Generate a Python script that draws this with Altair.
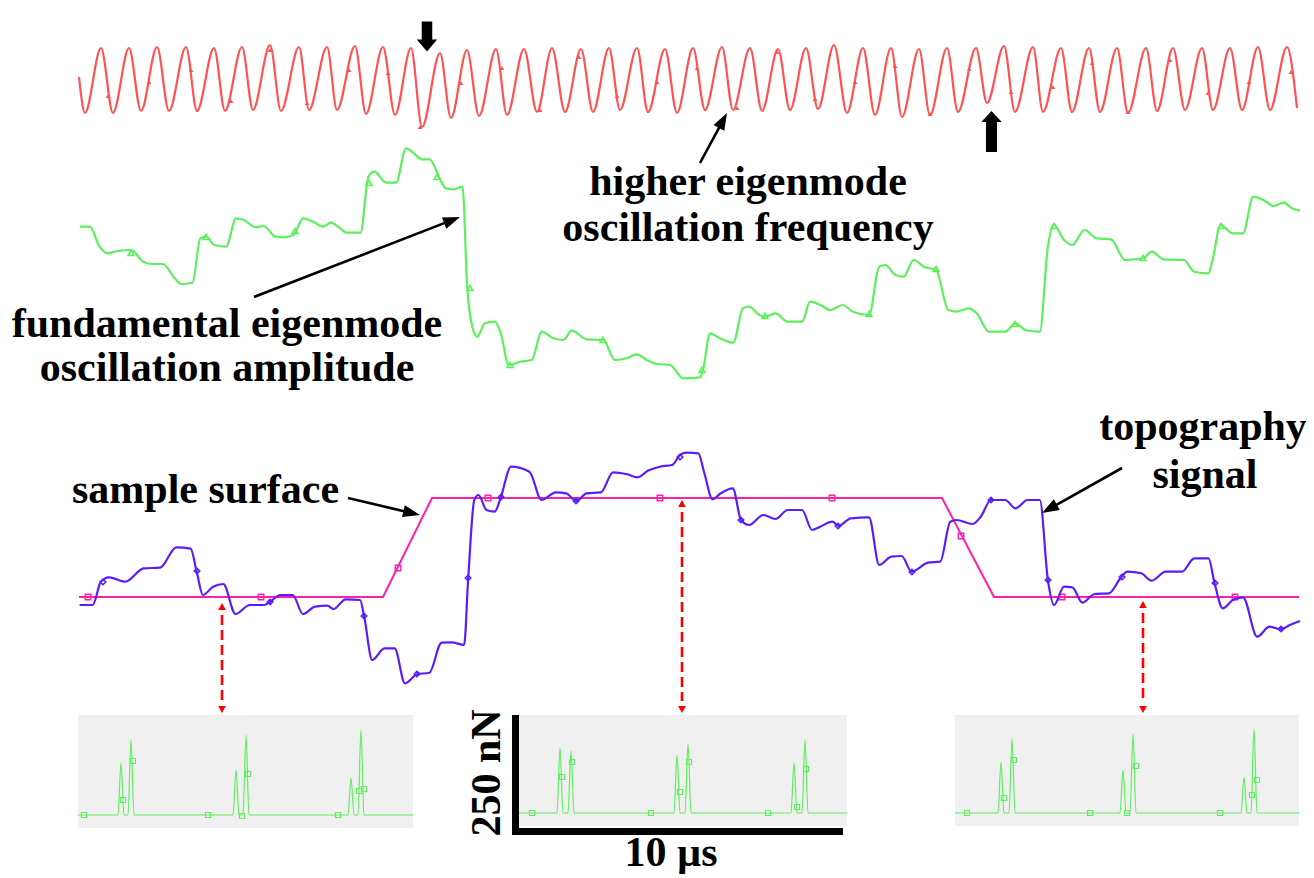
import math
import altair as alt
import pandas as pd

# ---------------- data (page pixel units) ----------------
# higher eigenmode (red) : extrema of the oscillation
red_peak_x = [101, 129, 157, 186, 214, 242, 270, 299, 327, 355, 383, 411, 440, 467, 496,
              524, 552, 581, 609, 637, 665, 693, 722, 750, 778, 806, 834, 863, 891, 919,
              947, 976, 1004, 1033, 1061, 1089, 1117, 1146, 1173, 1202, 1230, 1258, 1287]
red_peak_y = [48, 48, 47, 47, 48, 47, 45, 47, 47, 46, 47, 48, 53, 50, 49,
              49, 48, 49, 48, 48, 49, 48, 47, 48, 49, 48, 45, 48, 48, 49,
              48, 48, 46, 47, 48, 48, 48, 48, 48, 48, 48, 47, 47]
red_trough_x = [85, 113, 141, 169, 197, 225, 253, 281, 309, 337, 366, 395, 422, 451, 479, 507,
                537, 565, 593, 620, 648, 677, 705, 733, 762, 790, 818, 847, 875, 902,
                930, 958, 987, 1015, 1043, 1072, 1100, 1128, 1157, 1185, 1213, 1242, 1270]
red_trough_y = [113, 113, 111, 111, 111, 111, 110, 111, 110, 110, 114, 115, 127, 118, 116, 115,
                112, 112, 112, 110, 112, 113, 110, 110, 111, 110, 109, 113, 115, 117,
                115, 112, 103, 112, 112, 112, 112, 113, 111, 110, 110, 110, 110]
red_end_x = [79, 1297]
red_end_y = [77, 108]
red_mark_x = [108, 149, 191, 231, 270, 307, 349, 388, 420, 461, 502, 540, 579, 617, 657, 697,
              737, 777, 815, 855, 895, 930, 969, 1011, 1053, 1092, 1128, 1170, 1208, 1249, 1291]
red_mark_y = [96, 82, 70, 101, 50, 103, 70, 73, 127, 83, 68, 110, 57, 96, 82, 68,
              108, 52, 99, 82, 66, 114, 69, 92, 87, 63, 112, 60, 93, 82, 72]

# fundamental eigenmode amplitude (green)
green_x = [79.9, 89.8, 99.6, 107.5, 117.4, 131.3, 143.1, 153, 162.9, 174.7, 180.7, 192.5, 200.4,
           206.4, 214.3, 226.1, 236, 243.9, 255.8, 263.7, 275.5, 283.4, 293.3, 303.2, 313.1, 323,
           330.9, 338.8, 346.7, 360.5, 368.4, 374.3, 386.2, 396.1, 406, 413.9, 421.8, 429.7, 439.6,
           445.5, 453.4, 462.5, 467.2, 473.2, 477.1, 485, 494.9, 500.8, 508.7, 520.6, 531.7, 541.7,
           553.3, 563.3, 571.7, 586.7, 603.3, 615, 626.7, 636.7, 646.7, 656.7, 670, 683.3, 700,
           703, 710, 720, 733.3, 743, 749.1, 759.3, 765.4, 775.5, 787.7, 802, 810.1, 820.2, 830.4,
           842.6, 852.8, 869, 879.2, 885.3, 895.4, 903.6, 913.7, 923.9, 936.1, 948.3, 956.4, 968.6,
           976.7, 989, 1005.2, 1015.4, 1025.5, 1039.8, 1047.9, 1054, 1064.1, 1072.3, 1084.5, 1096.7,
           1110.9, 1125.1, 1135.3, 1143.4, 1151.5, 1163.7, 1184, 1194.2, 1208.5, 1212.5, 1220.7,
           1232.8, 1243, 1253.2, 1263.3, 1273.6, 1283.7, 1291.8, 1299.9]
green_y = [226.7, 226.7, 246.7, 253.3, 251, 250, 261.7, 264, 264, 278.3, 284, 282.7, 238.3,
           236.7, 245, 246.7, 218.3, 220, 227.3, 226, 236.7, 237.3, 235, 218.3, 221.7, 226.7,
           222.7, 227.3, 232.7, 232.7, 176.7, 171.7, 182.7, 182.7, 148.3, 153.3, 159.3, 159.3, 178.3,
           188.3, 189.3, 186.7, 286.7, 330, 336.7, 323.3, 321.7, 333.3, 365, 361.7, 360, 331.7,
           338.3, 340, 330.7, 339.3, 340, 360, 358.3, 354.3, 360, 364, 365, 378.3, 377.3,
           370, 333.3, 338.3, 342.7, 308.3, 306.7, 315, 316.7, 313.3, 321.7, 321.7, 301.7, 305, 310,
           305, 311.7, 315, 266.7, 265, 275, 276.7, 260, 266.7, 270, 310, 311.7, 308.3,
           313.3, 331.7, 331.7, 323.3, 330, 331.7, 246.7, 225, 240, 245, 230, 238.3,
           239.3, 260, 259.3, 258.3, 251.7, 259.3, 260, 271.7, 273.3, 260, 225,
           233.3, 233.3, 196.7, 200, 206, 202.7, 208.3, 210.7]
green_mark_x = [131, 206, 295, 369, 437, 470, 510, 603, 702, 765, 869, 936, 1015, 1054, 1143, 1221]
green_mark_y = [253, 237, 231, 183, 177, 288, 365, 340, 370, 316, 314, 269, 324, 226, 258, 226]

# topography signal (blue)
blue_x = [79.6, 92.7, 100.8, 109, 125.3, 143.7, 160, 176.3, 190.6, 196.7, 202.9, 213.1, 223.3,
          235.5, 249.8, 264.1, 270.2, 280.4, 292.7, 302.9, 315.1, 327.3, 333.5, 345.7, 360, 364.1,
          372.2, 384.5, 394.7, 404.9, 417.1, 429.4, 441.6, 451.8, 464.1, 468.2, 474.3, 478.4, 486.5,
          494.7, 500.8, 511, 529.4, 541.6, 555.9, 566.1, 576.3, 586.5, 600.8, 613.1, 627.3, 637.6,
          647.8, 660, 672.2, 680, 686.1, 698.3, 704.4, 712.5, 720.7, 732.8, 741, 749.1, 763.3,
          775.5, 787.7, 802, 812.1, 820.2, 832.4, 838.5, 850.7, 869, 879.2, 891.4, 901.6, 911.7,
          928, 940.2, 950.3, 956.4, 972.7, 980.8, 991, 1005.2, 1015.4, 1027.6, 1039.8, 1047.9, 1054,
          1064.1, 1072.3, 1082.4, 1094.6, 1108.9, 1121.5, 1127.2, 1141.3, 1151.5, 1165.8, 1182,
          1194.2, 1208.5, 1214.6, 1222.7, 1232.8, 1243, 1257.2, 1269.5, 1280.8, 1289.8, 1299.9]
blue_y = [605, 605, 581.7, 577.3, 581.7, 568.3, 567.7, 547.3, 548.7, 571.7, 595, 586.7, 584,
          614, 605, 605, 601.7, 595, 595, 614, 606.7, 605.7, 609, 599.3, 600, 616,
          660, 648.3, 648.3, 683.3, 674.3, 672.7, 642.7, 642.3, 645, 578.3, 500, 495, 510,
          511.7, 497.3, 466.7, 471.7, 500, 492.3, 493.3, 501, 493.3, 492.3, 472.3, 474.3, 477.3,
          470.7, 466.7, 465, 455, 452.7, 453.3, 473.3, 499.3, 493.3, 488.3, 520, 525, 515,
          519, 510, 510, 530, 526.7, 521.7, 526, 518.3, 517.3, 565, 556.7, 556, 571.7,
          562.7, 561.7, 521.7, 520, 524, 516.7, 500, 500, 508.3, 500, 500, 580, 605,
          586.7, 587.3, 602.7, 594, 593.3, 576.7, 571.7, 573.3, 580.7, 571.7, 571.7,
          558.3, 558.3, 583.3, 608.3, 600, 597.3, 636.7, 626.7, 629.3, 625, 621]
blue_mark_x = [103, 197, 270, 364, 417, 468, 501, 576, 680, 741, 838, 912, 991, 1048, 1122, 1215, 1281]
blue_mark_y = [582, 571, 602, 616, 674, 578, 497, 501, 457, 520, 526, 572, 500, 580, 577, 583, 629]

# sample surface (pink)
pink_x = [79, 383, 432, 942, 994, 1299]
pink_y = [597, 597, 498, 498, 597, 597]
pink_mark_x = [88, 261, 398, 488, 660, 832, 961, 1062, 1235]
pink_mark_y = [597, 597, 568, 498, 498, 498, 536, 597, 597]

# force-curve insets (three panels)
panel_x0 = [78, 519, 955]
panel_x1 = [413, 847, 1299]
panel_y0 = [715, 715, 715]
panel_y1 = [828, 826, 826]
panel_base = [815, 813, 813]
panel_peak_x = [[121, 131, 236, 246, 351, 361],
                [560, 571, 677, 688, 794, 805],
                [1001, 1012, 1123, 1133, 1244, 1254]]
panel_peak_top = [[763, 740, 770, 735, 778, 730],
                  [748, 751, 755, 744, 763, 740],
                  [762, 739, 770, 734, 777, 729]]
panel_sq_x = [[84, 123, 133, 208, 242, 248, 338, 359, 364],
              [532, 562, 572, 651, 680, 689, 768, 797, 806],
              [967, 1004, 1014, 1090, 1127, 1136, 1220, 1252, 1257]]
panel_sq_y = [[815, 800, 761, 815, 816, 774, 815, 791, 789],
              [813, 777, 762, 813, 792, 762, 813, 807, 769],
              [813, 798, 760, 813, 813, 766, 813, 795, 780]]

# red double arrows linking the topography to the insets
link_x = [222, 682, 1143]
link_top = [603, 500, 601]
link_bottom = [713, 713, 713]

# annotation arrows (start -> tip)
ann_x1 = [700, 254, 348, 1122]
ann_y1 = [163, 297, 498, 468]
ann_x2 = [727, 460, 420, 1042]
ann_y2 = [113, 217, 515, 513]

# texts
labels = ["higher eigenmode", "oscillation frequency", "fundamental eigenmode",
          "oscillation amplitude", "topography", "signal"]
label_x = [748, 748, 227, 227, 1203, 1205]
label_y = [195, 241, 337, 381, 440, 488]

# ---------------- chart ----------------
W, H, PB = 1298, 834, 32
XS = alt.Scale(domain=[8, 8 + W], nice=False, zero=False)
YS = alt.Scale(domain=[8, 8 + H], nice=False, zero=False, reverse=True)
FONT = "Liberation Serif"


def X(f="x"):
    return alt.X(f"{f}:Q", scale=XS, axis=None)


def Y(f="y"):
    return alt.Y(f"{f}:Q", scale=YS, axis=None)


RED, GREEN, BLUE, PINK = "#ff5252", "#5cf05c", "#5a1cff", "#ff1fac"

# red wave
red_pts = sorted(list(zip(red_peak_x, red_peak_y)) + list(zip(red_trough_x, red_trough_y))
                 + list(zip(red_end_x, red_end_y)))
red_df = pd.DataFrame(red_pts, columns=["x", "y"])
red_line = alt.Chart(red_df).mark_line(color=RED, strokeWidth=2.2, interpolate="monotone").encode(x=X(), y=Y())
red_marks = alt.Chart(pd.DataFrame({"x": red_mark_x, "y": red_mark_y})).mark_point(
    shape="triangle-up", filled=True, size=22, color=RED, opacity=1).encode(x=X(), y=Y())

green_line = alt.Chart(pd.DataFrame({"x": green_x, "y": green_y})).mark_line(
    color=GREEN, strokeWidth=2.2, interpolate="monotone").encode(x=X(), y=Y())
green_marks = alt.Chart(pd.DataFrame({"x": green_mark_x, "y": green_mark_y})).mark_point(
    shape="triangle-up", filled=False, size=34, strokeWidth=1.6, color=GREEN, opacity=1).encode(x=X(), y=Y())

pink_line = alt.Chart(pd.DataFrame({"x": pink_x, "y": pink_y})).mark_line(
    color=PINK, strokeWidth=2).encode(x=X(), y=Y())
pink_marks = alt.Chart(pd.DataFrame({"x": pink_mark_x, "y": pink_mark_y})).mark_point(
    shape="square", filled=False, size=30, strokeWidth=1.4, color=PINK, opacity=1).encode(x=X(), y=Y())

blue_line = alt.Chart(pd.DataFrame({"x": blue_x, "y": blue_y})).mark_line(
    color=BLUE, strokeWidth=2.2, interpolate="monotone").encode(x=X(), y=Y())
blue_marks = alt.Chart(pd.DataFrame({"x": blue_mark_x, "y": blue_mark_y})).mark_point(
    shape="diamond", filled=False, size=30, strokeWidth=1.6, color=BLUE, opacity=1).encode(x=X(), y=Y())

# panels
panel_df = pd.DataFrame({"x": panel_x0, "x2": panel_x1, "y": panel_y0, "y2": panel_y1})
panels = alt.Chart(panel_df).mark_rect(color="#f0f0f0").encode(x=X(), x2="x2:Q", y=Y(), y2="y2:Q")

rows = []
for p in range(3):
    b = panel_base[p]
    pts = [(panel_x0[p], b), (panel_x1[p], b)]
    for px, pt in zip(panel_peak_x[p], panel_peak_top[p]):
        pts += [(px - 3, b), (px, pt), (px + 3, b)]
    for x, y in sorted(pts):
        rows.append({"panel": p, "x": x, "y": y})
pline = alt.Chart(pd.DataFrame(rows)).mark_line(
    color=GREEN, strokeWidth=1.2, interpolate="monotone").encode(x=X(), y=Y(), detail="panel:N")
sq_rows = [{"x": x, "y": y} for p in range(3) for x, y in zip(panel_sq_x[p], panel_sq_y[p])]
psq = alt.Chart(pd.DataFrame(sq_rows)).mark_point(
    shape="square", filled=False, size=26, strokeWidth=1.1, color=GREEN, opacity=1).encode(x=X(), y=Y())

# scale bar
bar_df = pd.DataFrame({"x": [512, 512], "x2": [519, 843], "y": [715, 828], "y2": [829, 835]})
bars = alt.Chart(bar_df).mark_rect(color="black").encode(x=X(), x2="x2:Q", y=Y(), y2="y2:Q")

# red dashed link arrows
HEAD_R = "M0,0L0.55,1L-0.55,1Z"
link_df = pd.DataFrame({"x": link_x, "y": [t + 12 for t in link_top], "y2": [b - 12 for b in link_bottom]})
links = alt.Chart(link_df).mark_rule(color="#ff0000", strokeWidth=2.6, strokeDash=[10, 5]).encode(
    x=X(), y=Y(), y2="y2:Q")
lh_rows = [{"x": x, "y": t, "ang": 0} for x, t in zip(link_x, link_top)] + \
          [{"x": x, "y": b, "ang": 180} for x, b in zip(link_x, link_bottom)]
link_heads = alt.Chart(pd.DataFrame(lh_rows)).mark_point(
    shape=HEAD_R, filled=True, size=196, color="#ff0000", strokeWidth=0, opacity=1).encode(
    x=X(), y=Y(), angle=alt.Angle("ang:Q", scale=None))

# black annotation arrows
HEAD_B = "M0,0L0.36,1L-0.36,1Z"
arows, hrows = [], []
for x1, y1, x2, y2 in zip(ann_x1, ann_y1, ann_x2, ann_y2):
    dx, dy = x2 - x1, y2 - y1
    L = math.hypot(dx, dy)
    arows.append({"x": x1, "y": y1, "x2": x2 - dx / L * 8, "y2": y2 - dy / L * 8})
    hrows.append({"x": x2, "y": y2, "ang": math.degrees(math.atan2(dx, -dy)) % 360})
ann_lines = alt.Chart(pd.DataFrame(arows)).mark_rule(color="black", strokeWidth=2.6).encode(
    x=X(), y=Y(), x2="x2:Q", y2="y2:Q")
ann_heads = alt.Chart(pd.DataFrame(hrows)).mark_point(
    shape=HEAD_B, filled=True, size=1156, color="black", strokeWidth=0, opacity=1).encode(
    x=X(), y=Y(), angle=alt.Angle("ang:Q", scale=None))

# thick arrows marking the frequency shift
down_arrow = alt.Chart(pd.DataFrame({"x": [427], "y": [36.5]})).mark_point(
    shape="M-0.35,-1L0.35,-1L0.35,0.2L0.68,0.2L0,1L-0.68,0.2L-0.35,0.2Z",
    filled=True, size=900, color="black", strokeWidth=0, opacity=1).encode(x=X(), y=Y())
up_arrow = alt.Chart(pd.DataFrame({"x": [991.5], "y": [131.5]})).mark_point(
    shape="M0,-1L0.5,-0.46L0.27,-0.46L0.27,1L-0.27,1L-0.27,-0.46L-0.5,-0.46Z",
    filled=True, size=1681, color="black", strokeWidth=0, opacity=1).encode(x=X(), y=Y())

# texts
txt = alt.Chart(pd.DataFrame({"x": label_x, "y": label_y, "t": labels})).mark_text(
    font=FONT, fontWeight="bold", fontSize=42, align="center", baseline="alphabetic", color="black").encode(
    x=X(), y=Y(), text="t:N")
txt_left = alt.Chart(pd.DataFrame({"x": [72], "y": [503], "t": ["sample surface"]})).mark_text(
    font=FONT, fontWeight="bold", fontSize=42, align="left", baseline="alphabetic", color="black").encode(
    x=X(), y=Y(), text="t:N")
txt_nn = alt.Chart(pd.DataFrame({"x": [500], "y": [773], "t": ["250 nN"]})).mark_text(
    font=FONT, fontWeight="bold", fontSize=42, align="center", baseline="alphabetic", angle=270,
    color="black").encode(x=X(), y=Y(), text="t:N")
txt_us = alt.Chart(pd.DataFrame({"x": [671], "y": [866], "t": ["10 µs"]})).mark_text(
    font=FONT, fontWeight="bold", fontSize=42, align="center", baseline="alphabetic", color="black").encode(
    x=X(), y=Y(), text="t:N")

chart = alt.layer(
    panels, bars, pline, psq,
    red_line, red_marks, green_line, green_marks,
    pink_line, pink_marks, blue_line, blue_marks,
    links, link_heads, ann_lines, ann_heads, down_arrow, up_arrow,
    txt, txt_left, txt_nn, txt_us,
).properties(
    width=W, height=H,
    autosize=alt.AutoSizeParams(type="none"),
    padding={"left": 0, "top": 0, "right": 0, "bottom": PB},
    background="white",
).configure_view(stroke=None)

chart.save("out.html", embed_options={"renderer": "svg", "actions": False})
